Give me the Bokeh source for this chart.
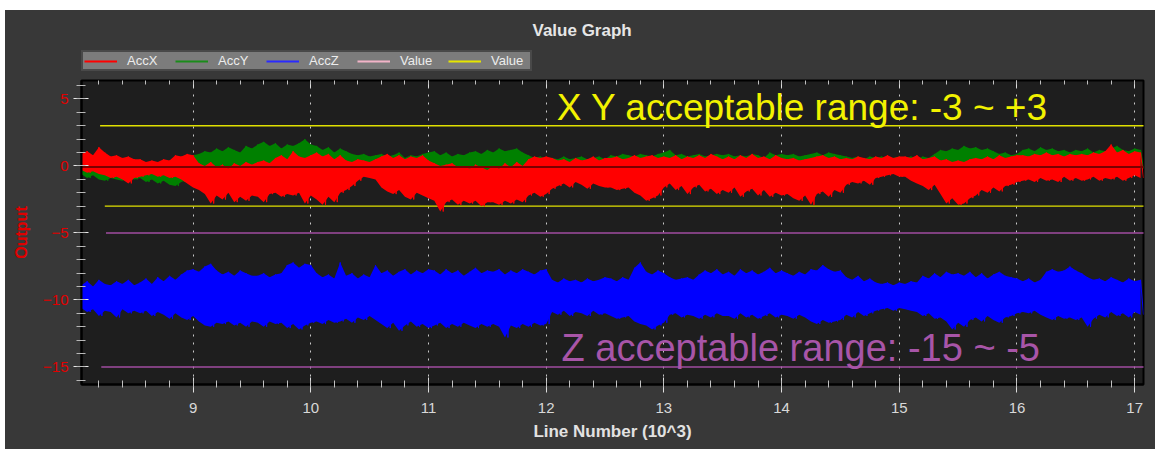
from bokeh.plotting import figure
from bokeh.models import (Range1d, SingleIntervalTicker, LinearAxis, Legend, LegendItem,
                          Label, Spacer)
from bokeh.layouts import column, row
from bokeh.embed import file_html
from bokeh.resources import INLINE

# ---------------- data ----------------
x_start = 8.05          # first sample (thousands of lines)
x_step = 0.05           # envelope bin width
x_end = 17.2

accx_hi = [0.9, 1.1, 0.8, 1.4, 1.0, 0.7, 0.8, 0.6, 0.7, 0.5,
           0.5, 0.3, 0.4, 0.3, 0.5, 0.4, 0.8, 0.7, 0.9, 0.8,
           0.2, 0.0, 0.3, -0.1, 0.1, -0.2, 0.2, 0.0, 0.3, 0.1,
           0.3, 0.4, 0.2, 0.6, 0.8, 0.5, 1.1, 0.7, 0.6, 0.8,
           1.0, 0.7, 0.9, 0.5, 0.8, 0.4, 0.3, 0.5, 0.4, 0.3,
           0.5, 0.7, 0.9, 0.6, 0.8, 0.5, 0.7, 0.6, 0.8, 0.4,
           0.2, 0.0, 0.1, 0.2, -0.1, 0.0, -0.2, 0.1, -0.1, -0.3,
           0.0, -0.2, 0.2, -0.1, 0.3, 0.0, 0.5, 0.7, 0.6, 0.7,
           0.6, 0.4, 0.5, 0.3, 0.6, 0.4, 0.5, 0.7, 0.4, 0.6,
           0.6, 0.7, 0.5, 0.6, 0.8, 0.6, 0.7, 0.8, 0.6, 0.7,
           0.6, 0.8, 0.5, 0.7, 0.6, 0.8, 0.6, 0.9, 0.7, 0.5,
           0.7, 0.5, 0.8, 0.6, 0.9, 0.6, 0.7, 0.5, 0.8, 0.6,
           0.5, 0.6, 0.4, 0.5, 0.6, 0.7, 0.8, 0.6, 0.7, 0.5,
           0.6, 0.5, 0.7, 0.6, 0.5, 0.7, 0.6, 0.8, 0.6, 0.7,
           0.7, 0.6, 0.8, 0.5, 0.6, 0.7, 0.4, 0.5, 0.3, 0.4,
           0.3, 0.5, 0.6, 0.5, 0.7, 0.5, 0.8, 0.6, 0.7, 0.8,
           0.8, 0.7, 0.9, 0.8, 1.0, 0.8, 0.9, 0.7, 0.9, 0.8,
           0.9, 0.8, 1.0, 0.9, 1.1, 1.6, 1.0, 1.2, 0.9, 1.1, 1.0]
accx_lo = [-0.3, -0.5, -0.4, -0.6, -0.7, -0.9, -0.8, -1.0, -1.3, -0.9,
           -0.8, -0.7, -0.6, -0.8, -0.7, -0.9, -0.8, -1.0, -1.3, -1.6,
           -1.8, -2.1, -2.8, -2.2, -2.5, -2.0, -2.7, -2.3, -2.6, -2.2,
           -2.3, -2.7, -2.1, -2.0, -2.3, -2.1, -2.2, -2.0, -2.8, -2.2,
           -2.5, -2.9, -2.3, -2.7, -2.0, -1.8, -1.5, -1.1, -0.8, -0.9,
           -1.0, -1.6, -1.9, -2.1, -1.8, -2.3, -2.5, -2.0, -2.2, -2.4,
           -2.6, -3.4, -2.7, -2.5, -2.9, -2.6, -2.8, -2.6, -3.0, -2.7,
           -2.7, -2.9, -2.6, -2.8, -2.5, -2.7, -2.2, -2.0, -2.3, -2.1,
           -1.7, -1.5, -1.3, -1.6, -1.2, -1.4, -1.7, -1.3, -1.5, -1.6,
           -1.6, -1.8, -1.7, -1.6, -2.0, -2.2, -2.6, -2.4, -2.2, -1.6,
           -1.3, -1.8, -1.5, -2.1, -1.6, -1.4, -1.9, -1.7, -2.1, -1.8,
           -2.0, -1.6, -2.3, -1.9, -1.7, -2.2, -1.8, -2.3, -2.0, -2.2,
           -2.1, -2.4, -2.6, -2.2, -2.9, -2.1, -1.9, -2.3, -1.8, -2.0,
           -1.4, -1.2, -1.3, -1.1, -1.4, -0.9, -0.8, -0.7, -0.6, -0.8,
           -0.8, -1.1, -1.3, -1.5, -1.8, -1.4, -2.1, -2.8, -2.4, -2.9,
           -2.8, -2.4, -2.2, -1.8, -2.0, -1.6, -1.9, -1.5, -1.4, -1.2,
           -1.1, -1.0, -1.2, -0.9, -1.1, -1.0, -1.2, -0.8, -1.1, -0.9,
           -1.1, -1.0, -0.8, -1.1, -0.9, -1.0, -0.8, -1.1, -0.9, -0.7, -0.9]

accy_hi = [0.3, 0.4, 0.2, 0.5, 0.3, 0.2, 0.3, 0.1, 0.2, 0.1,
           0.1, 0.2, 0.0, 0.2, 0.1, 0.3, 0.4, 0.3, 0.6, 0.8,
           0.9, 1.1, 1.0, 1.3, 1.1, 1.4, 1.2, 1.0, 1.5, 1.3,
           1.6, 1.8, 1.5, 1.7, 1.3, 1.6, 1.5, 1.7, 2.0, 1.6,
           1.5, 1.2, 1.4, 1.0, 1.3, 1.1, 0.9, 0.8, 0.9, 0.7,
           0.8, 0.9, 0.7, 0.8, 1.0, 0.6, 0.8, 0.7, 0.9, 1.0,
           1.1, 0.8, 1.0, 0.7, 0.9, 0.8, 1.0, 1.1, 0.9, 1.2,
           1.0, 1.3, 1.1, 1.2, 1.3, 1.0, 0.8, 0.6, 0.7, 0.5,
           0.6, 0.5, 0.7, 0.5, 0.6, 0.7, 0.5, 0.6, 0.7, 0.5,
           0.8, 0.7, 0.9, 0.8, 0.7, 0.9, 0.8, 0.7, 0.9, 1.0,
           1.2, 0.8, 0.9, 0.7, 0.8, 0.9, 0.7, 0.8, 0.9, 0.8,
           0.9, 0.7, 0.8, 0.7, 0.9, 0.8, 0.6, 1.0, 0.8, 0.9,
           0.8, 0.9, 0.7, 0.8, 0.9, 1.0, 0.8, 1.0, 0.9, 0.8,
           0.7, 0.6, 0.7, 0.5, 0.7, 0.6, 0.7, 0.5, 0.6, 0.7,
           0.6, 0.7, 0.5, 0.7, 0.6, 0.9, 1.2, 1.1, 1.3, 1.2,
           1.5, 1.3, 1.4, 1.2, 1.3, 1.1, 0.9, 1.0, 0.8, 0.9,
           1.2, 1.3, 1.1, 1.4, 1.2, 1.3, 1.1, 1.2, 1.0, 1.2,
           1.1, 1.3, 1.0, 1.2, 1.1, 1.3, 1.5, 1.2, 1.1, 1.3, 1.2]
accy_lo = [-0.6, -0.9, -0.7, -1.0, -1.1, -0.9, -1.0, -1.1, -0.9, -1.0,
           -0.9, -1.2, -1.0, -1.3, -1.1, -1.4, -1.5, -1.2, -1.0, -0.6,
           -0.3, -0.2, -0.4, -0.3, -0.2, -0.4, -0.3, -0.2, -0.3, -0.4,
           -0.3, -0.2, -0.3, -0.4, -0.2, -0.3, -0.4, -0.2, -0.3, -0.2,
           -0.3, -0.2, -0.3, -0.2, -0.1, -0.2, -0.1, -0.2, -0.1, -0.2,
           -0.2, -0.1, -0.2, -0.3, -0.2, -0.1, -0.2, -0.3, -0.2, -0.1,
           -0.2, -0.3, -0.2, -0.4, -0.3, -0.2, -0.4, -0.3, -0.2, -0.3,
           -0.3, -0.2, -0.4, -0.3, -0.2, -0.3, -0.2, -0.1, -0.2, -0.1,
           -0.1, -0.2, -0.1, -0.3, -0.2, -0.1, -0.2, -0.1, -0.2, -0.3,
           -0.2, -0.1, -0.2, -0.3, -0.1, -0.2, -0.1, -0.2, -0.3, -0.2,
           -0.3, -0.2, -0.3, -0.6, -0.2, -0.1, -0.2, -0.3, -0.2, -0.1,
           -0.2, -0.3, -0.2, -0.1, -0.2, -0.5, -0.2, -0.3, -0.2, -0.1,
           -0.2, -0.1, -0.2, -0.3, -0.2, -0.1, -0.2, -0.1, -0.2, -0.3,
           -0.2, -0.1, -0.3, -0.2, -0.1, -0.2, -0.4, -0.3, -0.2, -0.1,
           -0.2, -0.1, -0.2, -0.3, -0.2, -0.3, -0.2, -0.1, -0.2, -0.3,
           -0.2, -0.3, -0.2, -0.1, -0.2, -0.3, -0.2, -0.1, -0.2, -0.1,
           -0.1, -0.2, -0.1, -0.2, -0.3, -0.1, -0.2, -0.1, -0.2, -0.1,
           -0.1, -0.2, -0.1, -0.2, -0.1, -0.3, -0.2, -0.1, -0.2, -0.1, -0.2]

accz_hi = [-8.9, -8.6, -9.0, -8.5, -8.8, -8.9, -8.6, -8.8, -8.5, -8.9,
           -8.7, -8.4, -8.8, -8.3, -8.6, -8.2, -8.5, -8.1, -7.8, -7.7,
           -7.9, -7.5, -7.3, -7.8, -8.1, -7.9, -8.2, -7.8, -8.0, -8.2,
           -8.2, -8.0, -8.3, -8.1, -8.0, -7.4, -7.2, -7.6, -7.3, -7.4,
           -8.0, -8.3, -8.1, -8.4, -7.2, -8.2, -8.0, -8.4, -8.1, -8.3,
           -7.4, -8.0, -7.8, -8.2, -7.9, -7.7, -8.1, -7.8, -8.0, -7.7,
           -7.8, -8.1, -7.7, -8.0, -7.8, -8.2, -7.9, -7.6, -8.0, -7.8,
           -7.9, -7.7, -8.1, -7.8, -8.0, -7.7, -7.9, -8.1, -7.8, -7.7,
           -8.5, -8.7, -8.4, -8.6, -8.5, -8.7, -8.4, -8.6, -8.5, -8.3,
           -8.4, -8.6, -8.3, -8.5, -7.6, -7.2, -7.9, -8.1, -7.8, -8.0,
           -8.3, -8.5, -8.4, -8.3, -8.5, -8.1, -7.8, -8.0, -7.7, -8.1,
           -7.9, -8.2, -7.7, -8.0, -7.8, -8.1, -7.9, -7.6, -8.0, -7.8,
           -8.0, -8.2, -7.9, -8.1, -7.7, -7.8, -7.4, -7.7, -7.9, -7.8,
           -8.3, -8.5, -8.2, -8.6, -8.4, -8.7, -8.8, -8.7, -8.9, -8.7,
           -8.8, -8.6, -8.7, -8.2, -8.4, -8.0, -8.3, -7.9, -8.1, -8.0,
           -8.2, -7.9, -8.3, -8.0, -8.4, -8.1, -7.9, -8.2, -8.3, -8.4,
           -8.6, -8.4, -8.7, -8.5, -7.9, -7.7, -7.9, -7.8, -7.5, -7.8,
           -8.0, -8.3, -8.5, -8.4, -8.6, -8.3, -8.5, -8.7, -8.4, -8.6, -8.5]
accz_lo = [-10.6, -10.9, -10.7, -11.2, -10.8, -10.9, -11.3, -10.7, -11.0, -10.8,
           -11.0, -10.8, -11.2, -10.9, -11.1, -11.4, -11.0, -11.3, -11.5, -11.2,
           -11.6, -11.9, -12.0, -11.7, -11.8, -11.6, -11.9, -11.7, -12.0, -11.6,
           -11.7, -12.0, -11.6, -11.8, -11.7, -12.1, -11.8, -12.2, -11.9, -11.7,
           -11.6, -11.8, -11.5, -11.7, -11.6, -11.4, -11.7, -11.3, -11.5, -11.2,
           -11.5, -11.8, -12.1, -11.7, -12.3, -11.9, -11.6, -12.0, -11.8, -12.1,
           -11.9, -11.7, -12.1, -11.8, -12.0, -11.7, -11.9, -12.1, -11.8, -12.0,
           -11.8, -12.0, -12.8, -11.9, -12.1, -11.8, -12.0, -11.7, -11.9, -11.8,
           -10.9, -11.1, -10.8, -11.2, -10.9, -11.0, -11.2, -10.8, -11.1, -11.0,
           -11.2, -11.4, -11.3, -11.2, -11.6, -11.8, -11.9, -12.2, -11.9, -11.7,
           -11.1, -11.0, -11.3, -11.1, -11.2, -11.4, -11.1, -11.3, -11.0, -11.2,
           -11.2, -11.4, -11.0, -11.3, -11.1, -11.4, -11.2, -11.0, -11.3, -11.1,
           -11.2, -11.4, -11.1, -11.3, -11.6, -11.8, -11.5, -11.7, -11.6, -11.5,
           -11.1, -11.3, -10.9, -11.2, -11.0, -10.8, -10.7, -10.6, -10.8, -10.6,
           -10.7, -10.8, -10.9, -11.2, -11.0, -11.4, -11.3, -11.6, -12.2, -11.7,
           -12.0, -11.5, -11.3, -11.6, -11.2, -11.5, -11.7, -11.3, -11.2, -11.0,
           -10.9, -11.0, -10.8, -11.1, -11.3, -11.5, -11.2, -11.4, -11.3, -11.5,
           -11.3, -12.0, -11.4, -11.1, -11.3, -10.9, -11.2, -11.0, -11.3, -10.9, -11.1]

xy_limits = [3, -3]
xy_limit_start = [8.21, 8.25]
z_limits = [-5, -15]
z_limit_start = [8.26, 8.22]
zero_line_y = -0.08

legend_labels = ["AccX", "AccY", "AccZ", "Value", "Value"]
legend_colors = ["#ff0000", "#1a8c1a", "#2a2aff", "#f2b4c8", "#e6e600"]

title_text = "Value Graph"
xy_text = "X Y acceptable range: -3 ~ +3"
xy_text_pos = (12.09, 4.35)
z_text = "Z acceptable range: -15 ~ -5"
z_text_pos = (12.13, -13.6)

FONT = "Liberation Sans"
PANEL = "#383838"
W = 1150
LEFT, RIGHT = 76, 12


def bins(n):
    return [x_start + i * x_step for i in range(n)]


def zigzag(hi, lo):
    xs, ys = [], []
    for x, h, l in zip(bins(len(hi)), hi, lo):
        xs += [x, x + x_step / 2]
        ys += [h, l]
    return xs, ys


# ---------------- header: title + legend ----------------
# The header's ranges hold none of the data, so its legend-carrier lines stay out of view.
hdr = figure(width=W, height=62, output_backend="svg", toolbar_location=None,
             x_range=Range1d(0, 1), y_range=Range1d(0, 1),
             x_axis_type=None, y_axis_type=None,
             min_border_left=LEFT, min_border_right=RIGHT, min_border_top=0, min_border_bottom=0,
             background_fill_color=PANEL, border_fill_color=PANEL)
hdr.outline_line_color = None
hdr.grid.visible = False

items = []
for lab, col in zip(legend_labels, legend_colors):
    r = hdr.line(x=[x_start, x_end], y=[xy_limits[0], xy_limits[0]], line_color=col, line_width=2)
    items.append(LegendItem(label=lab, renderers=[r]))
legend = Legend(items=items, location=(0, 1), orientation="horizontal",
                background_fill_color="#7c7c7c", background_fill_alpha=1,
                border_line_color="#151515", border_line_width=2,
                padding=1, spacing=10, glyph_width=33, glyph_height=12,
                label_width=38, label_height=12, label_standoff=10,
                label_text_font=FONT, label_text_font_size="13px",
                label_text_color="#ececec")
hdr.add_layout(legend, "center")
hdr.add_layout(Label(x=451, y=42, x_units="screen", y_units="screen", text=title_text,
                     text_align="left", text_baseline="middle", text_font=FONT,
                     text_font_size="17px", text_font_style="bold", text_color="#e6e6e6"))

# ---------------- main plot ----------------
p = figure(width=W, height=377, output_backend="svg", toolbar_location=None,
           x_range=Range1d(8.052, 17.075), y_range=Range1d(-16.31, 6.38),
           min_border_left=LEFT, min_border_right=RIGHT, min_border_top=8, min_border_bottom=65,
           background_fill_color="#1e1e1e", border_fill_color=PANEL)
p.outline_line_color = "black"
p.outline_line_width = 2

xticker = SingleIntervalTicker(interval=1, num_minor_ticks=5)
yticker = SingleIntervalTicker(interval=5, num_minor_ticks=5)

xa = p.xaxis[0]
xa.ticker = xticker
xa.axis_label = "Line Number (10^3)"
xa.axis_label_text_font = FONT
xa.axis_label_text_font_style = "bold"
xa.axis_label_text_font_size = "17px"
xa.axis_label_text_color = "#e2e2e2"
xa.axis_label_standoff = 6
xa.major_label_text_font = FONT
xa.major_label_text_font_size = "15px"
xa.major_label_text_color = "#d8d8d8"
xa.major_label_standoff = 10
xa.axis_line_color = "black"
xa.axis_line_width = 2
xa.major_tick_in = 7
xa.major_tick_out = 8
xa.minor_tick_in = 4
xa.minor_tick_out = 3
xa.major_tick_line_color = "#dddddd"
xa.minor_tick_line_color = "#c0c0c0"

ya = p.yaxis[0]
ya.ticker = yticker
ya.axis_label = "Output"
ya.axis_label_text_font = FONT
ya.axis_label_text_font_style = "bold"
ya.axis_label_text_font_size = "16px"
ya.axis_label_text_color = "#e00000"
ya.axis_label_standoff = 10
ya.major_label_text_font = FONT
ya.major_label_text_font_size = "15px"
ya.major_label_text_color = "#e00000"
ya.major_label_standoff = 5
ya.axis_line_color = "black"
ya.axis_line_width = 2
ya.major_tick_in = 7
ya.major_tick_out = 8
ya.minor_tick_in = 4
ya.minor_tick_out = 5
ya.major_tick_line_color = "#e8e8e8"
ya.minor_tick_line_color = "#b8b8b8"

top = LinearAxis(ticker=xticker, major_label_text_color=None, major_label_text_font_size="1px",
                 axis_line_color=None, major_tick_in=7, major_tick_out=0,
                 minor_tick_in=4, minor_tick_out=0, major_label_standoff=0,
                 major_tick_line_color="#dddddd", minor_tick_line_color="#c0c0c0")
p.add_layout(top, "above")

p.xgrid[0].ticker = xticker
p.xgrid.grid_line_color = "#c8c8c8"
p.xgrid.grid_line_dash = "2 6"
p.xgrid.grid_line_width = 1
p.ygrid.visible = False

# limit lines (drawn first, under the data)
for lvl, xs in zip(z_limits, z_limit_start):
    p.line([xs, x_end], [lvl, lvl], line_color="#a04ca0", line_width=1.6)
for lvl, xs in zip(xy_limits, xy_limit_start):
    p.line([xs, x_end], [lvl, lvl], line_color="#e0e000", line_width=1.4)

# noisy signals: solid band between envelopes plus a jagged trace
for hi, lo, col in ((accz_hi, accz_lo, "#0000ff"),
                    (accy_hi, accy_lo, "#008000"),
                    (accx_hi, accx_lo, "#ff0000")):
    p.varea(x=bins(len(hi)), y1=lo, y2=hi, fill_color=col, fill_alpha=1)
    zx, zy = zigzag(hi, lo)
    p.line(zx, zy, line_color=col, line_width=1)

p.line([x_start, x_end], [zero_line_y, zero_line_y], line_color="#7a0000", line_width=2)

p.add_layout(Label(x=xy_text_pos[0], y=xy_text_pos[1], text=xy_text, text_font=FONT,
                   text_font_size="37px", text_color="#f2f200", text_baseline="alphabetic"))
p.add_layout(Label(x=z_text_pos[0], y=z_text_pos[1], text=z_text, text_font=FONT,
                   text_font_size="38px", text_color="#a855a8", text_baseline="alphabetic"))

inner = column(hdr, p, styles={"background-color": PANEL})
page = column(Spacer(width=1155, height=10),
              row(Spacer(width=5, height=439), inner))

open("out.html", "w").write(file_html(page, INLINE))
